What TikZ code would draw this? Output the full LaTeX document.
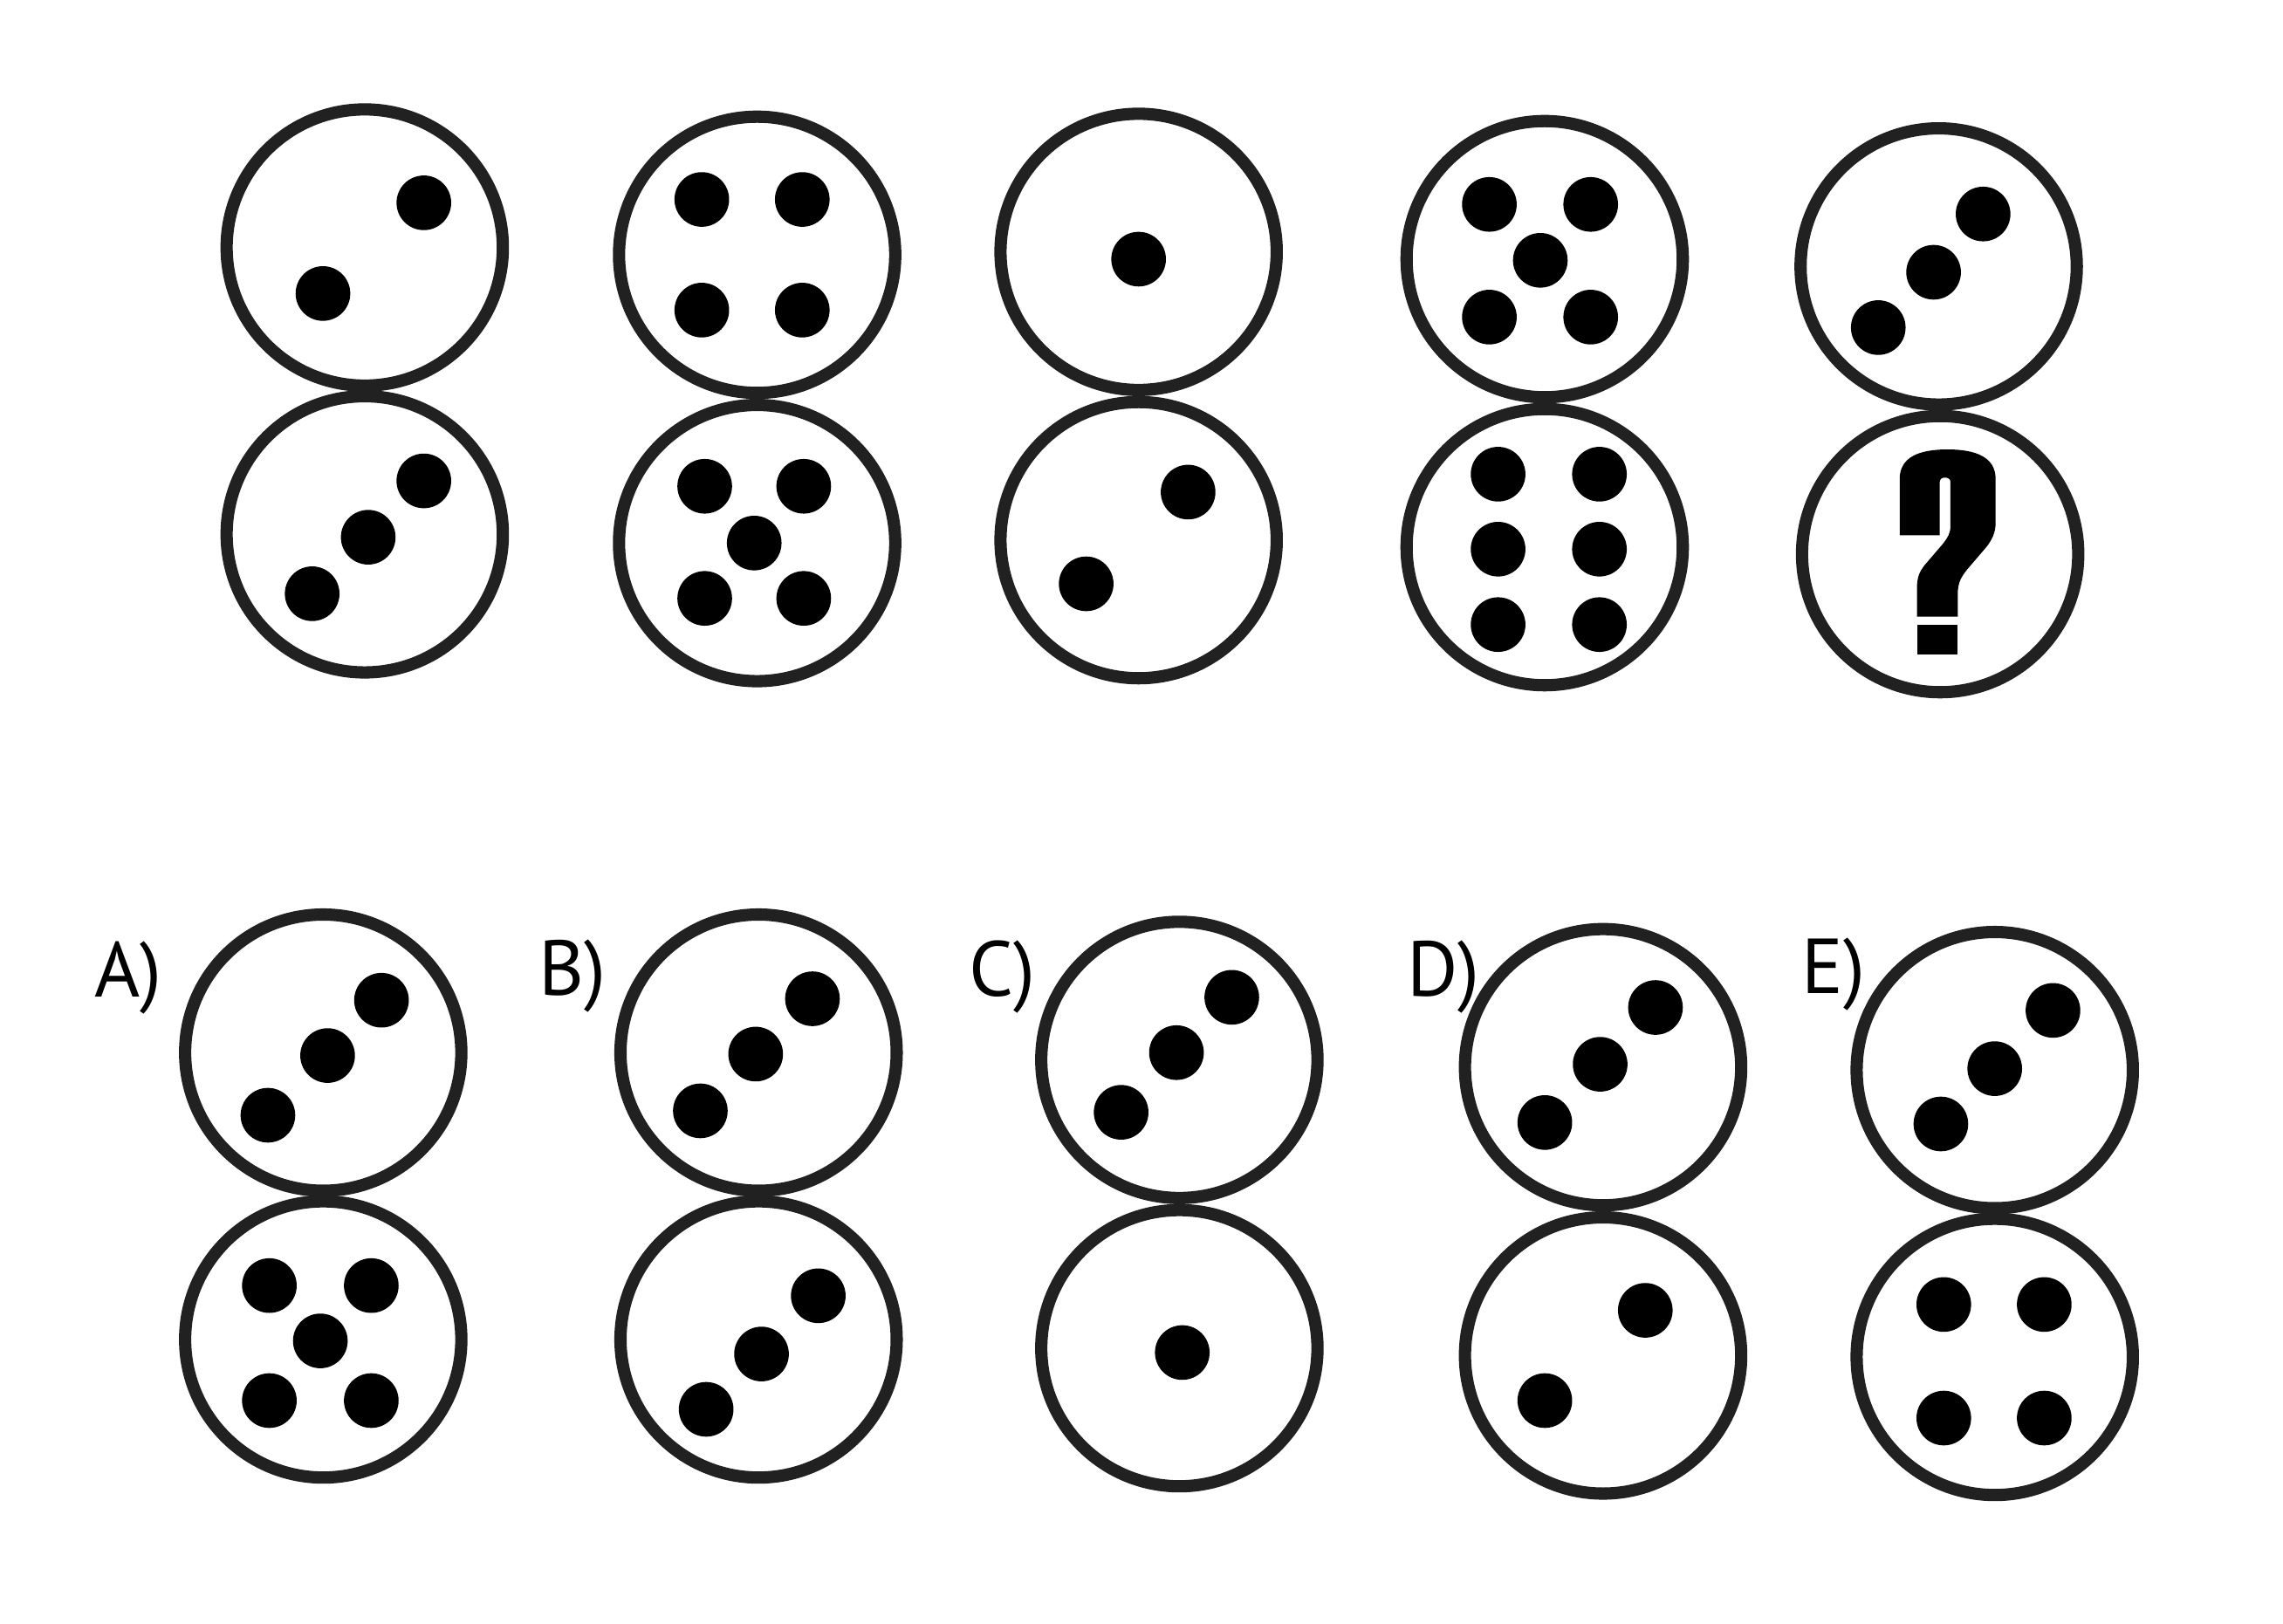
\documentclass[tikz,border=0pt]{standalone}
\usepackage{fontspec}
\setmainfont{PT Sans}

\begin{document}
\begin{tikzpicture}[x=0.016684cm,y=-0.016684cm,
  ring/.style={draw=black!87,line width=4pt},
  pip/.style={fill=black},
  letter/.style={anchor=base west,inner sep=0pt,font=\fontsize{25.4}{30}\selectfont}]
  \useasboundingbox (0,0) rectangle (1568,1115);
  % top row: five stacked pairs
  \foreach \x/\ya/\yb in {250.5/170/367, 520/175/373, 782/173/371, 1060.9/178/375.8}{
    \draw[ring] (\x,\ya) circle (1.582cm);
    \draw[ring] (\x,\yb) circle (1.582cm);
  }
  \draw[ring] (1331.5,183) circle (1.582cm);
  \draw[ring] (1332.5,380.6) circle (1.582cm);
  \foreach \p in {(291.1,139.3),(221.8,201.6),(291.1,330.3),(252.9,369),(214.4,407.8),
      (482,137),(551,137),(482,213),(551,213),
      (484,334),(552,334),(518,373),(484,411),(552,411),
      (782,178),(816,338),(746,401),
      (1022.9,140.4),(1092.5,140.4),(1057.9,178.8),(1022.9,217.8),(1092.5,217.8),
      (1028.9,325.7),(1098.5,325.7),(1028.9,377.2),(1098.5,377.2),(1028.9,429),(1098.5,429),
      (1362,147),(1328,187),(1290,225)}
    \fill[pip] \p circle (0.313cm);
  % the missing face
  \fill (1304.7,367.6) -- (1304.7,329) .. controls (1304.7,314) and (1318,308.7) .. (1337.6,308.7)
    .. controls (1357,308.7) and (1370.6,314) .. (1370.6,329) -- (1370.6,359)
    .. controls (1370.6,366) and (1368,371) .. (1364,376) -- (1352,390)
    .. controls (1347,396) and (1344.6,400) .. (1344.6,408) -- (1344.6,423.6) -- (1316.6,423.6)
    -- (1316.6,404) .. controls (1316.6,397) and (1318,393) .. (1322,388) -- (1334,374)
    .. controls (1338,369) and (1339.6,366) .. (1339.6,361) -- (1339.6,331)
    .. controls (1339.6,329) and (1338,328) .. (1335.9,328)
    .. controls (1333.8,328) and (1332.2,329) .. (1332.2,331) -- (1332.2,367.6) -- cycle;
  \fill (1316.6,429.1) rectangle (1344.6,449.5);
  % answer choices
  \foreach \x/\ya/\yb in {222/723/920, 521/723/920, 810/728/926, 1101/733/931, 1370/735/932}{
    \draw[ring] (\x,\ya) circle (1.582cm);
    \draw[ring] (\x,\yb) circle (1.582cm);
  }
  \foreach \p in {(262,687),(225,725),(184,766),
      (185,883),(255,883),(220,921),(185,962),(255,962),
      (558,686),(519,724),(481,763),(562,890),(523,930),(485,968),
      (846,685),(808,723),(770,764),(812,929),
      (1137,692),(1099,731),(1061,771),(1130,900),(1061,962),
      (1410,694),(1370,734),(1333,772),
      (1335,896),(1404,896),(1335,974),(1404,974)}
    \fill[pip] \p circle (0.313cm);
  \node[letter] (labA) at (64.7,684.5) {A)};
  \node[letter] (labB) at (369.6,683.3) {B)};
  \node[letter] (labC) at (664.9,684.3) {C)};
  \node[letter] (labD) at (966,684.3) {D)};
  \node[letter] (labE) at (1237.1,682.3) {E)};
\end{tikzpicture}
\end{document}
